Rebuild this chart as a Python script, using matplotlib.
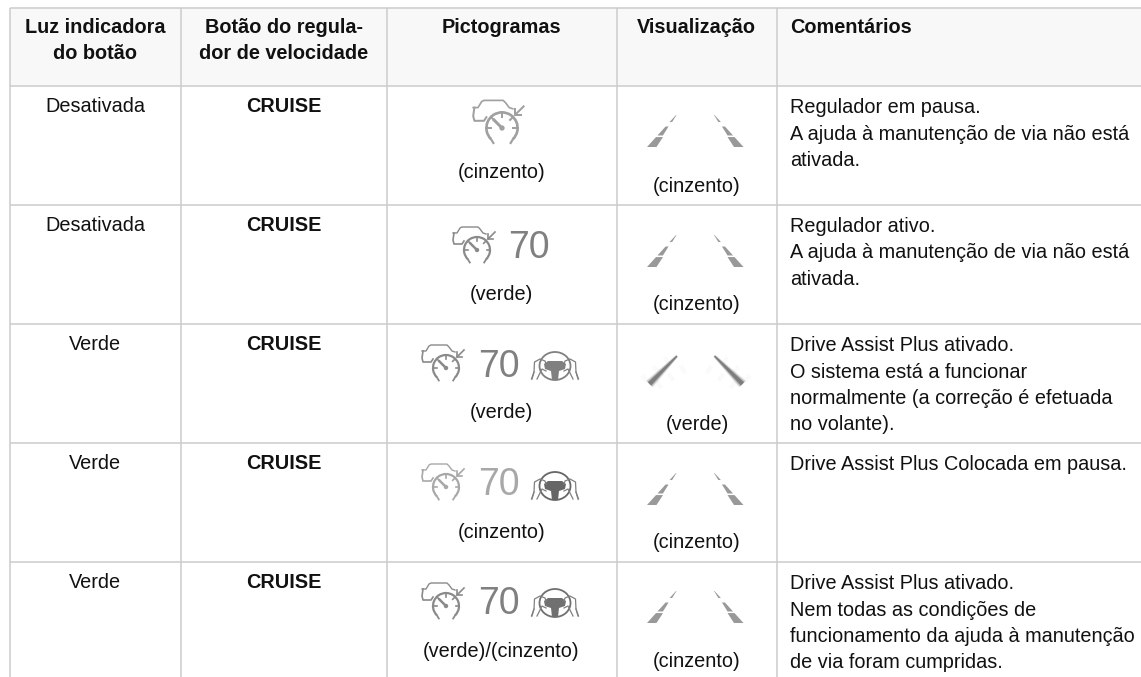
import numpy as np
import matplotlib
matplotlib.use("Agg")
import matplotlib.pyplot as plt
from matplotlib.patches import Polygon, Arc, Circle, Ellipse, Rectangle

plt.rcParams['font.family'] = ['Liberation Sans', 'DejaVu Sans']

headers = [["Luz indicadora", "do botão"], ["Botão do regula-", "dor de velocidade"],
           ["Pictogramas"], ["Visualização"], ["Comentários"]]
lights = ["Desativada", "Desativada", "Verde", "Verde", "Verde"]
buttons = ["CRUISE"] * 5
picto_caps = ["(cinzento)", "(verde)", "(verde)", "(cinzento)", "(verde)/(cinzento)"]
view_caps = ["(cinzento)", "(cinzento)", "(verde)", "(cinzento)", "(cinzento)"]
comments = [
    ["Regulador em pausa.", "A ajuda à manutenção de via não está", "ativada."],
    ["Regulador ativo.", "A ajuda à manutenção de via não está", "ativada."],
    ["Drive Assist Plus ativado.", "O sistema está a funcionar",
     "normalmente (a correção é efetuada", "no volante)."],
    ["Drive Assist Plus Colocada em pausa."],
    ["Drive Assist Plus ativado.", "Nem todas as condições de",
     "funcionamento da ajuda à manutenção", "de via foram cumpridas."],
]
speed = "70"

W, H = 1141, 677
fig = plt.figure(figsize=(W / 100, H / 100), dpi=100, facecolor="white")
ax = fig.add_axes([0, 0, 1, 1])
ax.set_xlim(0, W)
ax.set_ylim(H, 0)
ax.axis("off")

GRID = "#cccccc"
TXT = "#111111"
FS = 14.3
col_x = [9.5, 181, 386.5, 616.5, 776.5]
row_y = [7.5, 86, 205, 324, 443, 562]
ax.add_patch(Rectangle((col_x[0], row_y[0]), W - col_x[0], row_y[1] - row_y[0], fc="#f8f8f8", ec="none", zorder=0))
for x in col_x:
    ax.plot([x, x], [row_y[0], H], color=GRID, lw=1.1, solid_capstyle="butt")
for y in row_y:
    ax.plot([col_x[0], W], [y, y], color=GRID, lw=1.1, solid_capstyle="butt")

cx = [95, 284, 501, 696]
for i, lines in enumerate(headers):
    for j, s in enumerate(lines):
        if i < 4:
            ax.text(cx[i], 33 + j * 26, s, ha="center", va="baseline", fontsize=FS, fontweight="bold", color=TXT)
        else:
            ax.text(790, 33 + j * 26, s, ha="left", va="baseline", fontsize=FS, fontweight="bold", color=TXT)

row_base = [112, 231, 350, 469, 588]
picto_base = [178, 300, 418, 538, 657]
view_base = [192, 310, 430, 548, 667]
for r in range(5):
    ax.text(95, row_base[r], lights[r], ha="center", va="baseline", fontsize=FS, color=TXT)
    ax.text(284, row_base[r], buttons[r], ha="center", va="baseline", fontsize=FS, fontweight="bold", color=TXT)
    ax.text(501.5, picto_base[r], picto_caps[r], ha="center", va="baseline", fontsize=FS, color=TXT)
    ax.text(697, view_base[r], view_caps[r], ha="center", va="baseline", fontsize=FS, color=TXT)
    for j, s in enumerate(comments[r]):
        ax.text(790, row_base[r] + 1 + j * 26.5, s, ha="left", va="baseline", fontsize=FS, color=TXT)


def gauge(x, y, c="#808080", k=1.0):
    """Cruise pictogram: car, speedometer, arrow; (x, y) is the gauge hub, k the scale."""
    def P(dx, dy):
        return x + k * dx, y + k * dy
    lw = 1.0 * k
    pts = [(-24, -17), (-20, -17), (-17, -22), (-15, -23), (1, -23), (3, -21), (6, -17), (9, -16)]
    ax.plot(*zip(*[P(*p) for p in pts]), color=c, lw=lw, solid_joinstyle="round")
    pts = [(-23, -17), (-24, -10), (-23, -6), (-15, -6), (-13, -9)]
    ax.plot(*zip(*[P(*p) for p in pts]), color=c, lw=lw * 1.2, solid_joinstyle="round")
    ax.add_patch(Circle(P(0, 0), 14.5 * k, fc="white", ec="none", zorder=3))
    ax.add_patch(Arc(P(0, 0), 26 * k, 26 * k, theta1=135, theta2=45, ec=c, lw=1.6 * k, zorder=4))
    for a in (180, 270, 360, 225, 315):
        t = np.radians(a)
        ax.plot(*zip(P(9.5 * np.cos(t), 9.5 * np.sin(t)), P(13 * np.cos(t), 13 * np.sin(t))),
                color=c, lw=1.2 * k, zorder=4)
    ax.plot(*zip(P(-6.5, -6.5), P(0, 0)), color=c, lw=1.8 * k, zorder=4)
    ax.add_patch(Circle(P(0, 0), 2.2 * k, fc=c, ec="none", zorder=4))
    for sx in (-1, 1):
        ax.plot(*zip(P(sx * 9.2, 9.2), P(sx * 7.2, 12.5)), color=c, lw=1.3 * k, zorder=4)
    ax.plot(*zip(P(11, -11), P(18, -18)), color=c, lw=1.2 * k, zorder=4)
    ax.plot(*zip(P(11, -16), P(11, -11), P(16, -11)), color=c, lw=1.2 * k, zorder=4)


def wheel(x, y, c="#808080", hand="#808080"):
    """Steering wheel with two hands; (x, y) is the wheel centre."""
    ax.add_patch(Ellipse((x, y - 1), 31, 28, fc="none", ec=c, lw=1.3))
    hub = Polygon([(x - 11, y - 3), (x - 7, y - 6), (x + 7, y - 6), (x + 11, y - 3), (x + 10, y + 2),
                   (x + 4, y + 4), (x + 3, y + 13), (x - 3, y + 13), (x - 4, y + 4), (x - 10, y + 2)],
                  closed=True, fc=c, ec="none")
    ax.add_patch(hub)
    for s in (-1, 1):
        ax.plot([x + s * 23, x + s * 21, x + s * 20.5, x + s * 15, x + s * 10, x + s * 9],
                [y + 12, y + 5, y - 5, y - 8, y - 6, y - 3], color=hand, lw=0.9, zorder=5)
        ax.plot([x + s * 21, x + s * 23.5], [y + 5, y + 12], color=hand, lw=0.9, zorder=5)
        ax.plot([x + s * 18, x + s * 13, x + s * 9], [y + 12, y + 2, y + 4], color=hand, lw=0.9, zorder=5)


def lanes(y_bottom, c="#999999", blurred=False):
    """Two converging dashed lane lines; y_bottom is their lower end."""
    h = 32
    if blurred:
        for x0, x1, s in [(649.5, 677, 1), (742.5, 714.5, -1)]:
            yb, yt = y_bottom - 3, y_bottom - h + 1
            ax.plot([x0 - s * 6, x1 - s * 2], [yb - 4, yt - 2], color="#aaaaaa", lw=6,
                    alpha=.05, ls=(0, (0.5, 1.2)))
            ax.plot([x0 + s * 8, x1 + s * 14], [yb + 2, yt + 8], color="#aaaaaa", lw=6,
                    alpha=.05, ls=(0, (0.5, 1.2)))
            for g, a in [(1.7, .15), (1.25, .3), (0.8, .6)]:
                ax.add_patch(Polygon([(x0 - s * 2 * g, yb - 2 * g), (x0 + s * 2 * g, yb + 2 * g),
                                      (x1 + s * .6 * g, yt + .6 * g), (x1 - s * .6 * g, yt - .6 * g)],
                                     closed=True, fc="#555555", ec="none", alpha=a))
        return
    segs = [(0.0, 0.31, 9.5, 7.0), (0.36, 0.64, 5.5, 3.0), (0.78, 1.0, 2.5, 0.5)]
    for x0, x1, sgn in [(647, 676, 1), (743.5, 714.5, -1)]:
        for f0, f1, w0, w1 in segs:
            xa = x0 + (x1 - x0) * f0
            xb = x0 + (x1 - x0) * f1
            ya = y_bottom - h * f0
            yb = y_bottom - h * f1
            ax.add_patch(Polygon([(xa, ya), (xa + sgn * w0, ya), (xb + sgn * w1, yb), (xb, yb)],
                                 closed=True, fc=c, ec="none"))


gauge(502, 128, "#a0a0a0", 1.2)
gauge(477, 250, "#8a8a8a")
ax.text(529, 258, speed, ha="center", va="baseline", fontsize=27, color="#808080")

icons = [(368, 377, 367, "#8a8a8a", "#808080", "#808080"),
         (487, 495, 487, "#a8a8a8", "#a8a8a8", "#666666"),
         (606, 614, 604, "#8a8a8a", "#808080", "#707070")]
for gy, ty, wy, gc, tc, wc in icons:
    gauge(446, gy, gc)
    ax.text(499, ty, speed, ha="center", va="baseline", fontsize=27, color=tc)
    wheel(555, wy, wc)

for yb, blur in [(147, False), (267, False), (387, True), (505, False), (623, False)]:
    lanes(yb, blurred=blur)

fig.savefig("out.png", dpi=100)
